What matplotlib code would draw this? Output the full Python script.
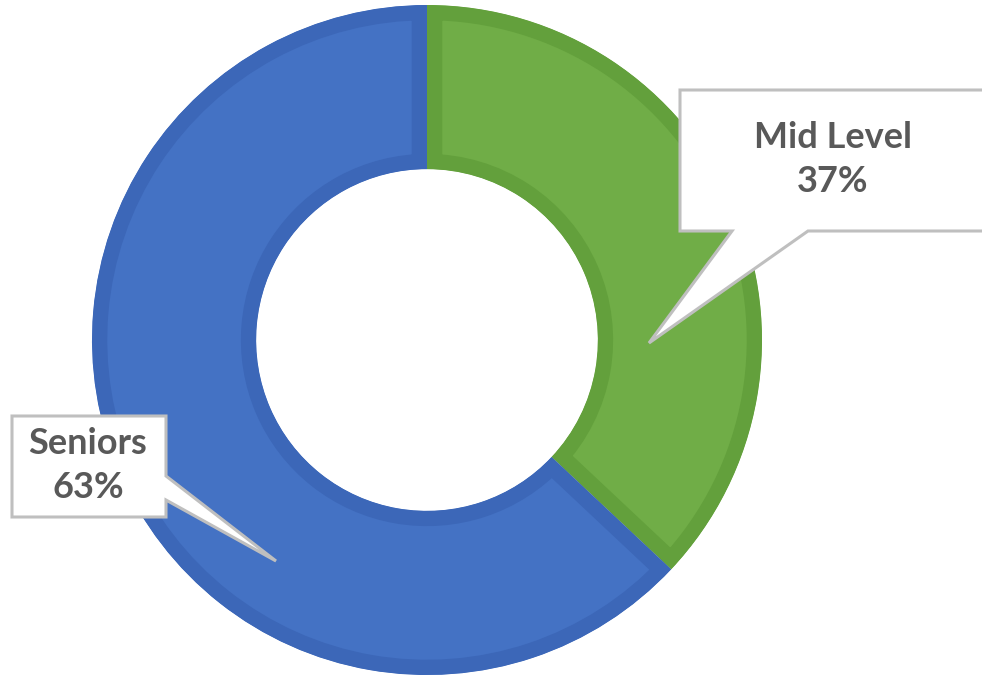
import matplotlib.pyplot as plt
from matplotlib.patches import Polygon

labels = ['Mid Level', 'Seniors']
shares = [37, 63]
fills = ['#70ad47', '#4472c4']
borders = ['#63a03c', '#3c67b8']

W, H = 982, 676
cx, cy, R = 427, 340, 335  # pixel centre / radius of the ring

def px(x, y):
    # pixel (from top-left) -> data units
    return ((x - cx) / R, (cy - y) / R)

fig = plt.figure(figsize=(W / 100, H / 100), dpi=100)
ax = fig.add_axes([0, 0, 1, 1])

wedges, _ = ax.pie(shares, colors=fills, startangle=90, counterclock=False,
                   radius=1.0, wedgeprops=dict(width=0.49))
for w, ec in zip(wedges, borders):
    # inner stroke: wide edge clipped to the wedge itself
    w.set_edgecolor(ec)
    w.set_linewidth(22)
    w.set_clip_path(w)
    w.set_clip_on(True)

ax.set_xlim(-cx / R, (W - cx) / R)
ax.set_ylim((cy - H) / R, cy / R)
ax.set_aspect('equal')
ax.axis('off')

# callouts
callouts = [
    ([(680, 90), (990, 90), (990, 231), (808, 231), (649, 343), (732, 231), (680, 231)],
     (833, 137), (833, 181), 0),
    ([(12, 416), (166, 416), (166, 476), (276, 561), (166, 500), (166, 517), (12, 517)],
     (88, 444), (88, 488), 1),
]
for pts, p1, p2, i in callouts:
    poly = Polygon([px(*p) for p in pts], closed=True, facecolor='white',
                   edgecolor='#bfbfbf', linewidth=2.2, joinstyle='miter', zorder=5)
    ax.add_patch(poly)
    ax.text(*px(*p1), labels[i], ha='center', va='center', fontsize=26,
            fontweight='bold', color='#595959', family='Lato', zorder=6)
    ax.text(*px(*p2), f'{shares[i]}%', ha='center', va='center', fontsize=26,
            fontweight='bold', color='#595959', family='Lato', zorder=6)

fig.savefig('out.png', dpi=100, facecolor='white')
